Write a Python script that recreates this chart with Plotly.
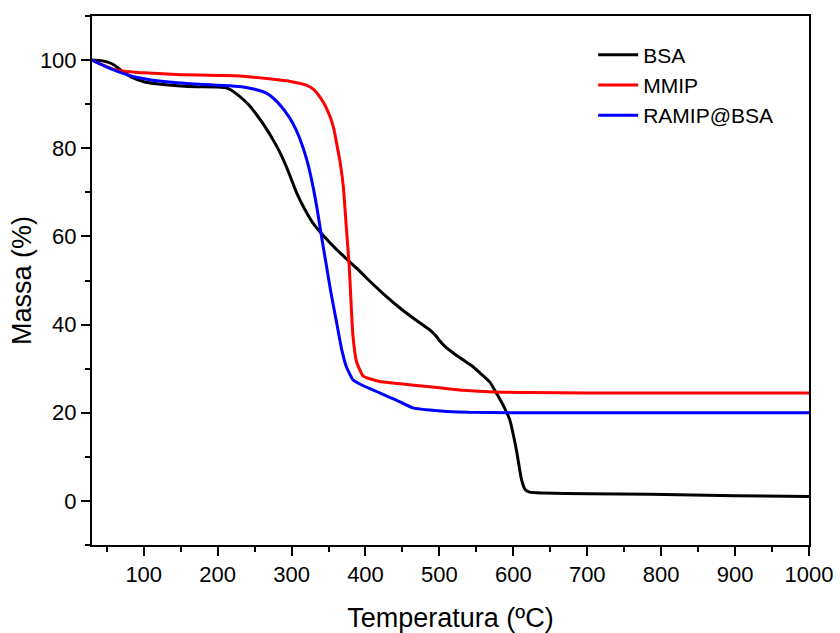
import plotly.graph_objects as go

# BSA (black)
bsa_x = [30, 40, 50, 60, 70, 85, 100, 130, 160, 200, 212, 218, 225, 235, 245, 257, 266, 275, 285, 293, 300, 307, 318, 329, 345, 361, 375, 388, 400, 428, 450, 470, 487, 496, 501, 507, 520, 532, 545, 555, 568, 577, 586, 595, 604, 611, 616, 622, 640, 700, 785, 900, 1000]
bsa_y = [100, 99.9, 99.6, 98.9, 97.6, 96.0, 95.1, 94.4, 94.0, 93.9, 93.7, 93.2, 92.4, 91.0, 89.3, 86.6, 84.4, 81.9, 78.8, 75.8, 72.8, 69.8, 66.1, 63.0, 59.8, 57.0, 54.8, 52.8, 50.8, 46.4, 43.3, 40.8, 38.8, 37.3, 36.2, 35.1, 33.4, 32.0, 30.5, 29.0, 27.0, 24.5, 21.8, 18.5, 11.7, 4.9, 2.6, 2.0, 1.8, 1.6, 1.5, 1.2, 1.0]

# MMIP (red)
mmip_x = [30, 40, 50, 60, 70, 85, 100, 150, 200, 230, 266, 300, 320, 330, 338, 345, 352, 357, 361, 366, 370, 374, 378, 383, 388, 397, 408, 419, 428, 450, 487, 514, 532, 573, 620, 700, 800, 1000]
mmip_y = [100, 99.2, 98.5, 97.9, 97.5, 97.3, 97.1, 96.7, 96.5, 96.4, 95.8, 95.1, 94.3, 93.3, 91.7, 89.8, 87.2, 84.5, 81.1, 76.5, 71.3, 62.2, 53.2, 37.5, 31.5, 28.3, 27.6, 27.1, 26.9, 26.5, 25.9, 25.4, 25.1, 24.7, 24.6, 24.5, 24.5, 24.5]

# RAMIP@BSA (blue)
ramip_x = [30, 40, 50, 60, 70, 90, 110, 150, 200, 230, 250, 266, 275, 285, 297, 306, 315, 322, 329, 335, 340, 347, 353, 361, 368, 374, 383, 395, 410, 419, 440, 464, 487, 510, 540, 600, 700, 800, 1000]
ramip_y = [100, 99.2, 98.4, 97.7, 97.1, 96.1, 95.5, 94.8, 94.3, 94.0, 93.4, 92.5, 91.4, 89.7, 87.0, 84.2, 80.4, 76.5, 71.3, 65.8, 60.5, 53.5, 47.5, 40.4, 34.2, 30.5, 27.5, 26.3, 25.2, 24.5, 23.0, 21.1, 20.6, 20.3, 20.1, 20.0, 20.0, 20.0, 20.0]

series = [
    ("BSA", bsa_x, bsa_y, "#000000"),
    ("MMIP", mmip_x, mmip_y, "#ff0000"),
    ("RAMIP@BSA", ramip_x, ramip_y, "#0000ff"),
]

fig = go.Figure()
for name, xs, ys, col in series:
    fig.add_trace(go.Scatter(x=xs, y=ys, mode="lines", name=name,
                             line=dict(color=col, width=3, shape="spline", smoothing=0.5)))

font_family = "Liberation Sans, Arial, sans-serif"
axis_common = dict(
    showline=True, linecolor="black", linewidth=2, mirror=True,
    ticks="outside", ticklen=9, tickwidth=2, tickcolor="black",
    showgrid=False, zeroline=False, automargin=False,
    tickfont=dict(family=font_family, size=22, color="black"),
)

fig.update_xaxes(
    range=[30, 1000], tick0=0, dtick=100,
    minor=dict(dtick=50, ticks="outside", ticklen=5, tickwidth=2, tickcolor="black", showgrid=False),
    title=dict(text="Temperatura (ºC)", font=dict(family=font_family, size=27, color="black"), standoff=23),
    **axis_common,
)
fig.update_yaxes(
    range=[-10, 110], tick0=0, dtick=20,
    minor=dict(dtick=10, ticks="outside", ticklen=5, tickwidth=2, tickcolor="black", showgrid=False),
    title=dict(text="Massa (%)", font=dict(family=font_family, size=27, color="black"), standoff=0),
    **axis_common,
)

fig.update_layout(
    width=840, height=633,
    margin=dict(l=92, r=31, t=16, b=88),
    paper_bgcolor="white", plot_bgcolor="white",
    showlegend=True,
    legend=dict(x=0.699, y=0.965, xanchor="left", yanchor="top",
                bgcolor="rgba(0,0,0,0)", borderwidth=0,
                font=dict(family=font_family, size=21, color="black"),
                tracegroupgap=0, itemwidth=40),
)

fig.write_html("out.html")
